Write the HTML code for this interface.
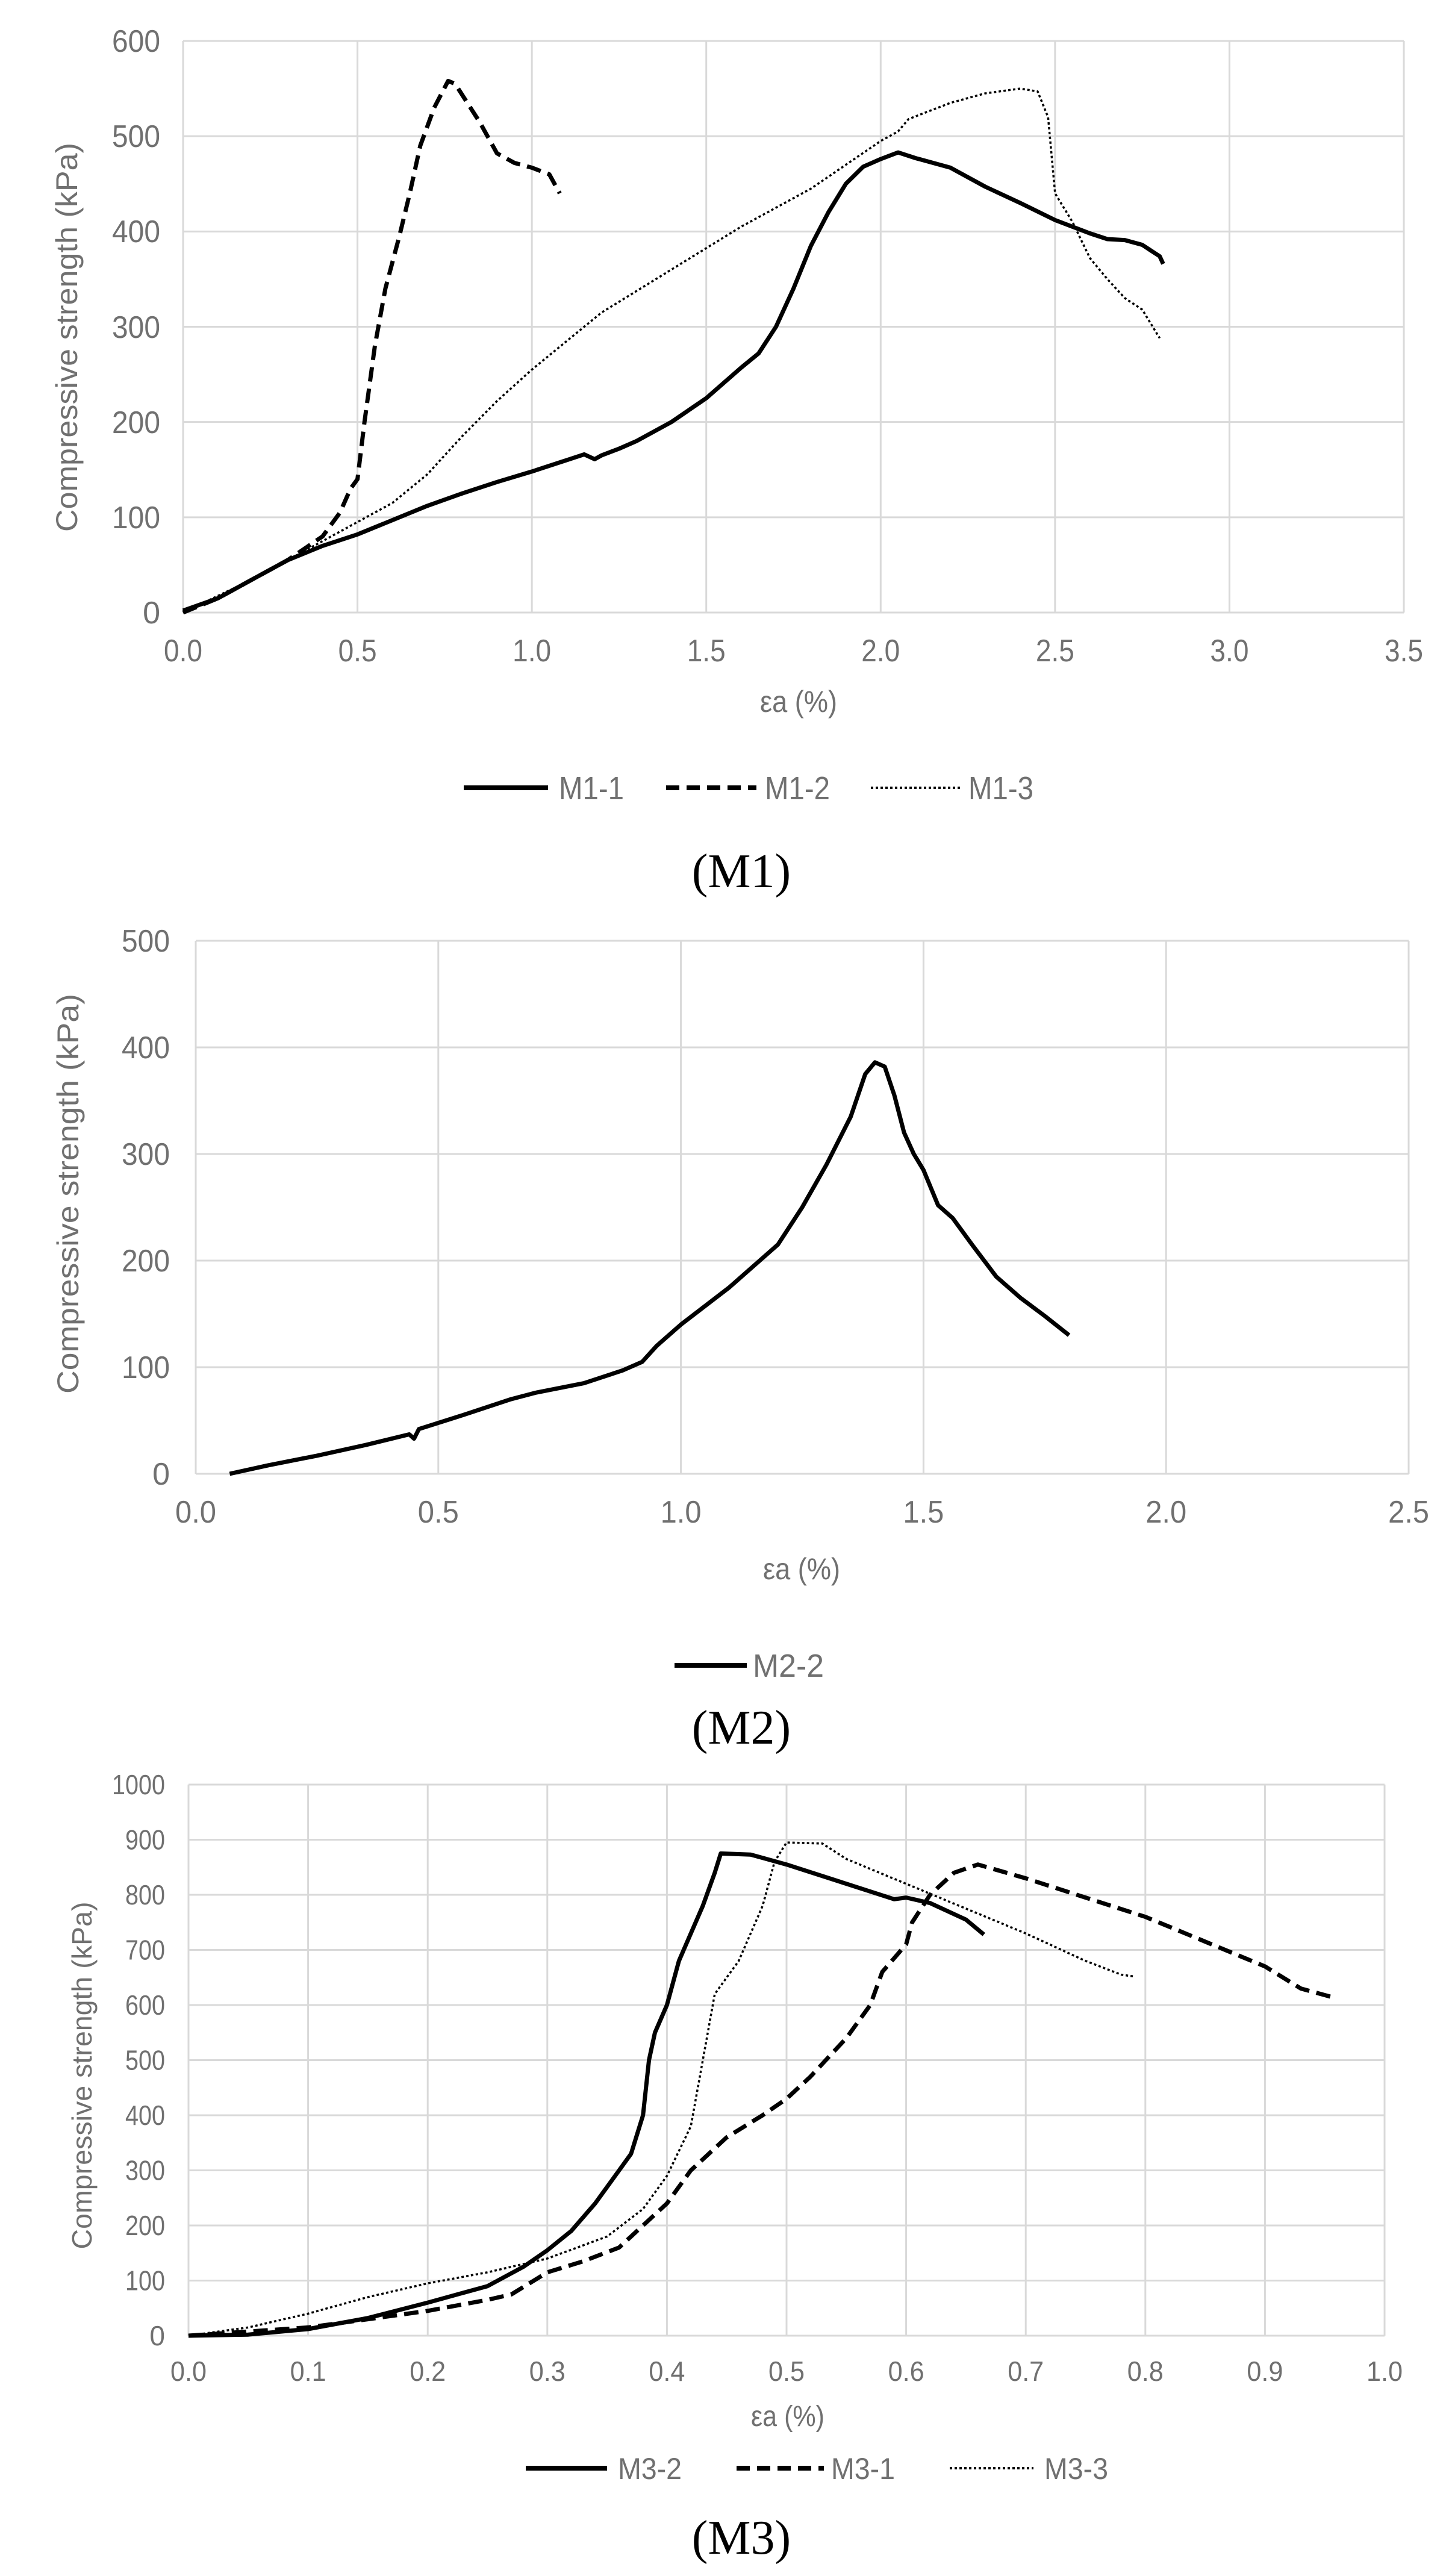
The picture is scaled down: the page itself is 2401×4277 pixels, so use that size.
<!DOCTYPE html>
<html><head><meta charset="utf-8"><style>
html,body{margin:0;padding:0;background:#fff;}
svg{display:block;}
.t{font-family:"Liberation Sans Narrow","Liberation Sans",sans-serif;fill:#707070;}
.yt{font-family:"Liberation Sans","DejaVu Sans",sans-serif;fill:#707070;}
.cap{font-family:"Liberation Serif",serif;fill:#000;}
</style></head><body>
<svg id="s" width="2401" height="4277" viewBox="0 0 2401 4277" xmlns="http://www.w3.org/2000/svg">
<rect width="2401" height="4277" fill="#fff"/>
<g id="grid" stroke="#d9d9d9" stroke-width="3" fill="none"></g>
<g id="curves" fill="none" stroke="#000" stroke-linejoin="round" stroke-linecap="butt"></g>

<!-- Chart 1 texts -->
<g class="t" font-size="52" text-anchor="end">
<text x="266" y="86" textLength="80" lengthAdjust="spacingAndGlyphs">600</text>
<text x="266" y="244" textLength="80" lengthAdjust="spacingAndGlyphs">500</text>
<text x="266" y="402" textLength="80" lengthAdjust="spacingAndGlyphs">400</text>
<text x="266" y="561" textLength="80" lengthAdjust="spacingAndGlyphs">300</text>
<text x="266" y="719" textLength="80" lengthAdjust="spacingAndGlyphs">200</text>
<text x="266" y="877" textLength="80" lengthAdjust="spacingAndGlyphs">100</text>
<text x="266" y="1035">0</text>
</g>
<g class="t" font-size="52" text-anchor="middle" id="x1"></g>
<text class="t" x="1326" y="1182" font-size="50" text-anchor="middle" textLength="128" lengthAdjust="spacingAndGlyphs">εa (%)</text>
<text class="yt" font-size="50" text-anchor="middle" transform="translate(128,560) rotate(-90)" textLength="646" lengthAdjust="spacingAndGlyphs">Compressive strength (kPa)</text>
<line x1="770" y1="1308" x2="910" y2="1308" stroke="#000" stroke-width="8"/>
<text class="t" x="928" y="1327" font-size="54" textLength="108" lengthAdjust="spacingAndGlyphs">M1-1</text>
<line x1="1106" y1="1308" x2="1256" y2="1308" stroke="#000" stroke-width="8" stroke-dasharray="22 12"/>
<text class="t" x="1270" y="1327" font-size="54" textLength="108" lengthAdjust="spacingAndGlyphs">M1-2</text>
<line x1="1446" y1="1308" x2="1594" y2="1308" stroke="#000" stroke-width="4" stroke-dasharray="4 4"/>
<text class="t" x="1608" y="1327" font-size="54" textLength="108" lengthAdjust="spacingAndGlyphs">M1-3</text>
<text class="cap" x="1231" y="1473" font-size="80" text-anchor="middle">(M1)</text>

<!-- Chart 2 texts -->
<g class="t" font-size="52" text-anchor="end">
<text x="282" y="1580" textLength="80" lengthAdjust="spacingAndGlyphs">500</text>
<text x="282" y="1757" textLength="80" lengthAdjust="spacingAndGlyphs">400</text>
<text x="282" y="1934" textLength="80" lengthAdjust="spacingAndGlyphs">300</text>
<text x="282" y="2111" textLength="80" lengthAdjust="spacingAndGlyphs">200</text>
<text x="282" y="2288" textLength="80" lengthAdjust="spacingAndGlyphs">100</text>
<text x="282" y="2465">0</text>
</g>
<g class="t" font-size="52" text-anchor="middle" id="x2"></g>
<text class="t" x="1331" y="2622" font-size="50" text-anchor="middle" textLength="128" lengthAdjust="spacingAndGlyphs">εa (%)</text>
<text class="yt" font-size="50" text-anchor="middle" transform="translate(130,1982) rotate(-90)" textLength="664" lengthAdjust="spacingAndGlyphs">Compressive strength  (kPa)</text>
<line x1="1120" y1="2765" x2="1240" y2="2765" stroke="#000" stroke-width="8"/>
<text class="t" x="1250" y="2784" font-size="54" textLength="118" lengthAdjust="spacingAndGlyphs">M2-2</text>
<text class="cap" x="1231" y="2895" font-size="80" text-anchor="middle">(M2)</text>

<!-- Chart 3 texts -->
<g class="t" font-size="46" text-anchor="end" id="y3"></g>
<g class="t" font-size="46" text-anchor="middle" id="x3"></g>
<text class="t" x="1308" y="4028" font-size="48" text-anchor="middle" textLength="122" lengthAdjust="spacingAndGlyphs">εa (%)</text>
<text class="yt" font-size="46" text-anchor="middle" transform="translate(152,3446) rotate(-90)" textLength="577" lengthAdjust="spacingAndGlyphs">Compressive strength (kPa)</text>
<line x1="873" y1="4098" x2="1008" y2="4098" stroke="#000" stroke-width="8"/>
<text class="t" x="1026" y="4116" font-size="50" textLength="106" lengthAdjust="spacingAndGlyphs">M3-2</text>
<line x1="1223" y1="4098" x2="1368" y2="4098" stroke="#000" stroke-width="8" stroke-dasharray="22 12"/>
<text class="t" x="1380" y="4116" font-size="50" textLength="106" lengthAdjust="spacingAndGlyphs">M3-1</text>
<line x1="1577" y1="4098" x2="1716" y2="4098" stroke="#000" stroke-width="4" stroke-dasharray="4 4"/>
<text class="t" x="1734" y="4116" font-size="50" textLength="106" lengthAdjust="spacingAndGlyphs">M3-3</text>
<text class="cap" x="1231" y="4240" font-size="80" text-anchor="middle">(M3)</text>
</svg>
<script>
var NS="http://www.w3.org/2000/svg";
function el(p,tag,a,txt){var e=document.createElementNS(NS,tag);for(var k in a)e.setAttribute(k,a[k]);if(txt!==undefined)e.textContent=txt;p.appendChild(e);return e;}
var grid=document.getElementById('grid'),cur=document.getElementById('curves');
function chart(c){
  var sx=function(v){return c.L+(v-c.x0)/(c.x1-c.x0)*(c.R-c.L);};
  var sy=function(v){return c.B-(v/c.ymax)*(c.B-c.T);};
  for(var i=0;i<=c.nx;i++){var x=c.L+i*(c.R-c.L)/c.nx;el(grid,'line',{x1:x,y1:c.T,x2:x,y2:c.B});}
  for(var j=0;j<=c.ny;j++){var y=c.T+j*(c.B-c.T)/c.ny;el(grid,'line',{x1:c.L,y1:y,x2:c.R,y2:y});}
  var xg=document.getElementById(c.xid);
  for(var i=0;i<=c.nx;i++){var x=c.L+i*(c.R-c.L)/c.nx;var v=(c.x0+i*(c.x1-c.x0)/c.nx).toFixed(1);
    el(xg,'text',{x:x,y:c.xty,textLength:c.xtw,lengthAdjust:'spacingAndGlyphs'},v);}
  if(c.yid){var yg=document.getElementById(c.yid);
    for(var j=0;j<=c.ny;j++){var v=c.ymax-j*c.ymax/c.ny;var y=c.T+j*(c.B-c.T)/c.ny;var s=String(v);
      var a={x:c.ytx,y:y+16};if(s.length>1){a.textLength=s.length*22;a.lengthAdjust='spacingAndGlyphs';}
      el(yg,'text',a,s);}}
  c.series.forEach(function(s){
    var d=s.d.map(function(p,i){return (i?'L':'M')+sx(p[0]).toFixed(1)+' '+sy(p[1]).toFixed(1);}).join(' ');
    var a={d:d,'stroke-width':s.w};if(s.dash)a['stroke-dasharray']=s.dash;el(cur,'path',a);
  });
}
chart({L:304,R:2331,T:68,B:1017,x0:0,x1:3.5,nx:7,ny:6,ymax:600,xid:'x1',xty:1098,xtw:64,
series:[
{w:7,d:[[0,2],[0.1,15],[0.2,35],[0.3,55],[0.4,70],[0.5,82],[0.6,97],[0.7,112],[0.8,125],[0.9,137],[1.0,148],[1.1,160],[1.15,166],[1.18,161],[1.2,165],[1.25,172],[1.3,180],[1.4,200],[1.5,225],[1.6,257],[1.65,272],[1.7,300],[1.75,340],[1.8,385],[1.85,420],[1.9,450],[1.95,468],[2.0,476],[2.05,483],[2.1,477],[2.2,467],[2.3,447],[2.4,430],[2.5,412],[2.6,398],[2.65,392],[2.7,391],[2.75,386],[2.8,374],[2.81,366]]},
{w:7,dash:'24 12',d:[[0,0],[0.1,15],[0.2,35],[0.3,55],[0.4,80],[0.45,105],[0.48,130],[0.5,140],[0.52,200],[0.55,280],[0.58,340],[0.62,395],[0.65,440],[0.68,490],[0.72,530],[0.76,558],[0.78,555],[0.85,515],[0.9,482],[0.95,472],[1.0,467],[1.05,460],[1.08,440]]},
{w:3.5,dash:'4 4',d:[[0,0],[0.2,35],[0.4,75],[0.5,95],[0.6,115],[0.7,145],[0.8,185],[0.9,222],[1.0,255],[1.2,315],[1.4,360],[1.6,405],[1.8,445],[2.0,495],[2.05,505],[2.08,518],[2.2,535],[2.3,545],[2.4,550],[2.45,547],[2.48,520],[2.5,440],[2.55,410],[2.6,372],[2.65,350],[2.7,330],[2.75,318],[2.8,288]]}
]});
chart({L:325,R:2339,T:1562,B:2447,x0:0,x1:2.5,nx:5,ny:5,ymax:500,xid:'x2',xty:2528,xtw:68,
series:[{w:7,d:[[0.07,0],[0.15,8],[0.25,17],[0.35,27],[0.44,37],[0.45,33],[0.46,42],[0.55,55],[0.65,70],[0.7,76],[0.8,85],[0.88,97],[0.92,105],[0.95,120],[1.0,140],[1.1,175],[1.2,215],[1.25,250],[1.3,290],[1.35,335],[1.38,375],[1.4,386],[1.42,382],[1.44,355],[1.46,320],[1.48,300],[1.5,285],[1.53,252],[1.56,240],[1.6,215],[1.65,185],[1.7,165],[1.75,148],[1.8,130]]}]});
chart({L:313,R:2299,T:2963,B:3878,x0:0,x1:1.0,nx:10,ny:10,ymax:1000,xid:'x3',yid:'y3',ytx:274,xty:3953,xtw:60,
series:[
{w:7,d:[[0,0],[0.05,2],[0.1,12],[0.15,32],[0.2,60],[0.25,90],[0.28,125],[0.3,155],[0.32,190],[0.34,240],[0.36,300],[0.37,330],[0.38,400],[0.385,500],[0.39,550],[0.4,600],[0.41,680],[0.42,730],[0.43,780],[0.44,840],[0.445,875],[0.47,873],[0.5,855],[0.55,820],[0.59,792],[0.6,795],[0.62,785],[0.65,755],[0.665,728]]},
{w:7,dash:'24 12',d:[[0,0],[0.1,15],[0.15,30],[0.2,45],[0.25,65],[0.27,75],[0.3,115],[0.33,135],[0.36,160],[0.38,200],[0.4,240],[0.42,300],[0.45,360],[0.48,400],[0.5,430],[0.52,470],[0.55,540],[0.57,600],[0.58,660],[0.6,710],[0.605,750],[0.62,800],[0.64,840],[0.66,855],[0.7,830],[0.8,760],[0.9,670],[0.93,630],[0.96,612]]},
{w:3.5,dash:'4 4',d:[[0,0],[0.05,15],[0.1,40],[0.15,70],[0.2,95],[0.25,115],[0.3,140],[0.35,180],[0.38,230],[0.4,290],[0.42,380],[0.43,500],[0.44,620],[0.46,680],[0.47,730],[0.48,780],[0.49,860],[0.5,895],[0.53,893],[0.55,865],[0.6,820],[0.65,775],[0.7,730],[0.75,680],[0.78,655],[0.79,652]]}
]});
</script>
</body></html>
